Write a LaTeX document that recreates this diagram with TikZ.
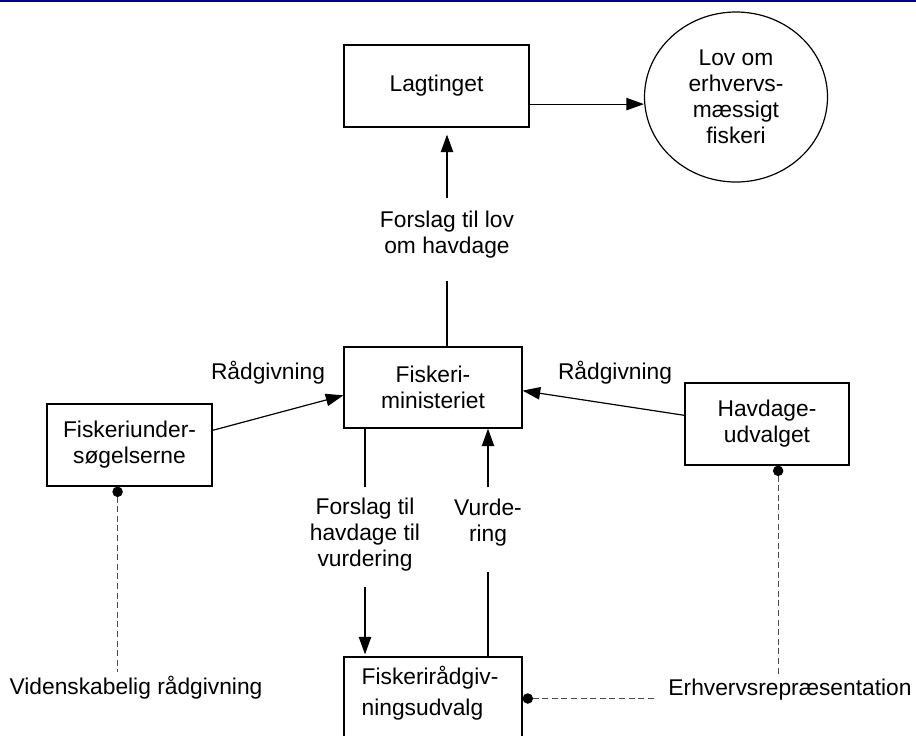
\documentclass[tikz,border=0pt]{standalone}
\usepackage{fontspec}
\setmainfont{Liberation Sans}
\usetikzlibrary{arrows.meta, shapes.geometric}
\definecolor{topline}{RGB}{0,0,139}

\begin{document}
\begin{tikzpicture}[x=0.25mm, y=-0.25mm,
  every node/.style={font=\fontsize{16.2}{18.5}\selectfont, align=center},
  boks/.style={draw, line width=0.3mm, inner sep=0pt},
  etiket/.style={inner sep=0pt},
  pil/.style={line width=0.3mm, -{Triangle[length=4.4mm, width=3.1mm]}},
  linje/.style={line width=0.3mm},
  stiplet/.style={line width=0.25mm, draw=black!70, dash pattern=on 1.5mm off 0.9mm, {Circle[length=2.6mm, color=black]}-}]
  \useasboundingbox (0,0) rectangle (916,735);

  % blaa streg oeverst
  \draw[topline, line width=0.5mm] (0,1) -- (916,1);

  % kasser
  \node[boks, minimum width=46.25mm, minimum height=20.5mm] (lagting) at (436.5,86) {Lagtinget};
  \node[boks, ellipse, minimum width=45.75mm, minimum height=42.5mm] (lov) at (736,97) {Lov om\\erhvervs-\\mæssigt\\fiskeri};
  \node[boks, minimum width=44.5mm, minimum height=20.25mm] (min) at (433,387.5) {Fiskeri-\\ministeriet};
  \node[boks, minimum width=41.25mm, minimum height=20.5mm] (fu) at (129.5,445) {Fiskeriunder-\\søgelserne};
  \node[boks, minimum width=41mm, minimum height=20.5mm] (hu) at (767,424) {Havdage-\\udvalget};
  \node[boks, minimum width=44.5mm, minimum height=20.75mm] (fru) at (433,698.5) {};
  \node[anchor=north west, align=left, inner sep=0pt, font=\fontsize{16.2}{22}\selectfont] (frutekst) at ([xshift=4.5mm, yshift=-2.4mm]fru.north west) {Fiskerirådgiv-\\ningsudvalg};

  % tekster paa pilene
  \node (raad1) at (268,373) {Rådgivning};
  \node (raad2) at (615,373) {Rådgivning};
  \node[etiket] (lovforslag) at (447,235) {Forslag til lov\\om havdage};
  \node[etiket] (forslag) at (365,535) {Forslag til\\havdage til\\vurdering};
  \node[etiket] (vurd) at (488,523) {Vurde-\\ring};
  \node (viden) at (136,688) {Videnskabelig rådgivning};
  \node (erhverv) at (790,690) {Erhvervsrepræsentation};

  % pile
  \draw[pil] (lagting.-11) -- (lagting.-11 -| lov.west);
  \draw[linje, shorten >=5.5mm] (lovforslag.south |- min.north) -- (lovforslag.south);
  \draw[pil, shorten <=3.25mm, shorten >=1.75mm] (lovforslag.north) -- (lovforslag.north |- lagting.south);
  \draw[pil] (fu.10) -- (min.185);
  \draw[pil] (hu.174) -- (min.-2);
  \draw[linje, shorten >=2.75mm] (forslag.north |- min.south) -- (forslag.north);
  \draw[pil, shorten <=3.75mm, shorten >=0.5mm] (forslag.south) -- (forslag.south |- fru.north);
  \draw[pil, shorten <=3mm] (vurd.north) -- (vurd.north |- min.south);
  \draw[linje, shorten >=6.25mm] (vurd.south |- fru.north) -- (vurd.south);

  % stiplede forbindelser
  \draw[stiplet] (fu.-106) -- (fu.-106 |- viden.north);
  \draw[stiplet] (hu.-75) -- (hu.-75 |- erhverv.north);
  \draw[stiplet, shorten >=2.25mm] (fru.east) -- (fru.east -| erhverv.west);
\end{tikzpicture}
\end{document}
